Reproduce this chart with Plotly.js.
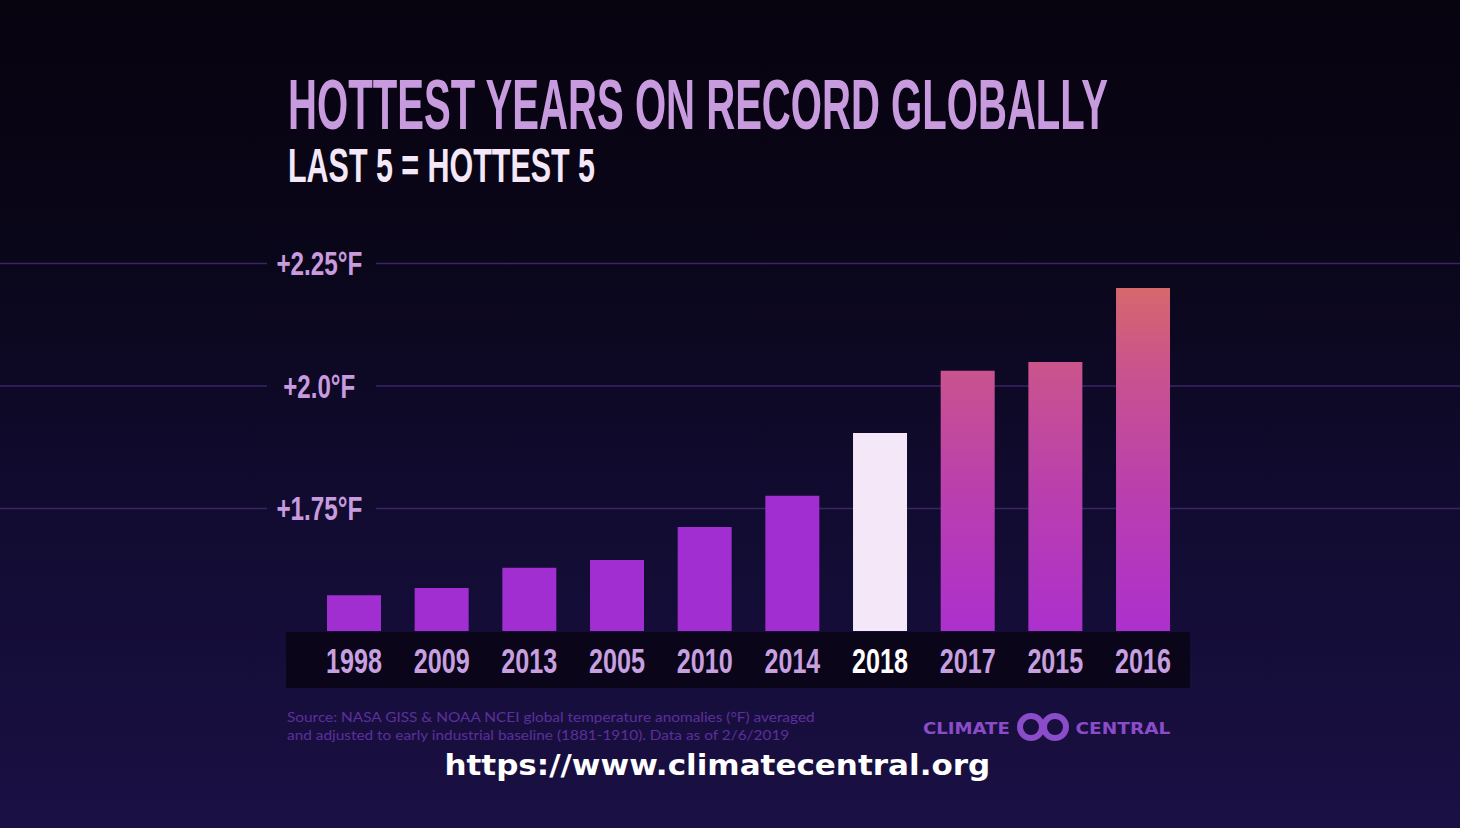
<!DOCTYPE html>
<html>
<head>
<meta charset="utf-8">
<script src="https://cdn.plot.ly/plotly-3.0.1.min.js"></script>
<style>
  html, body { margin:0; padding:0; width:1460px; height:828px; overflow:hidden;
    background: linear-gradient(to bottom, #07030f 0%, #0a0619 30%, #110b30 60%, #1a1044 100%); }
  #chart { width:1460px; height:828px; }
</style>
</head>
<body>
<div id="chart"></div>
<script>
// ---- data ----
const years = ['1998','2009','2013','2005','2010','2014','2018','2017','2015','2016'];
const anomaliesF = [1.573, 1.588, 1.629, 1.645, 1.712, 1.776, 1.904, 2.031, 2.049, 2.200];
const yTickVals = [1.75, 2.0, 2.25];
const yTickLabels = ['+1.75°F', '+2.0°F', '+2.25°F'];
const titleText = 'HOTTEST YEARS ON RECORD GLOBALLY';
const subtitleText = 'LAST 5 = HOTTEST 5';
const sourceLines = ['Source: NASA GISS &amp; NOAA NCEI global temperature anomalies (°F) averaged',
                     'and adjusted to early industrial baseline (1881-1910). Data as of 2/6/2019'];
const urlText = 'https://www.climatecentral.org';
const highlightYear = '2018';
const hottestFive = ['2018','2017','2015','2016'];

// ---- layout helpers ----
const W = 1460, H = 828, MT = 239, MB = 197;
const PH = H - MT - MB;
const px = x => x / W;
const py = y => (H - MB - y) / PH;

const PURPLE = '#a12ed1';
const barColors = years.map(y => y === highlightYear ? '#f3e7f8' : (hottestFive.includes(y) ? '#c04aa0' : PURPLE));
const tickText = years.map(y => y === highlightYear ? '<span style="color:#ffffff">' + y + '</span>' : y);

const NARROW = 'Liberation Sans Narrow, Arial Narrow, sans-serif';

const trace = {
  type: 'bar', x: years, y: anomaliesF,
  marker: { color: barColors, line: { width: 0 } },
  hoverinfo: 'skip'
};

const shapes = [];
// label band
shapes.push({ type:'rect', xref:'paper', yref:'paper', x0:px(286), x1:px(1190), y0:py(632), y1:py(688),
  fillcolor:'#0a0519', line:{width:0}, layer:'below' });
// broken gridlines
yTickVals.forEach(v => {
  shapes.push({ type:'line', xref:'paper', yref:'y', x0:0, x1:px(267), y0:v, y1:v, line:{color:'#3a2466', width:1.5}, layer:'below' });
  shapes.push({ type:'line', xref:'paper', yref:'y', x0:px(376), x1:1, y0:v, y1:v, line:{color:'#3a2466', width:1.5}, layer:'below' });
});
// logo rings
[1031, 1055].forEach(cx => {
  shapes.push({ type:'circle', xref:'paper', yref:'paper', xsizemode:'pixel', ysizemode:'pixel',
    xanchor:px(cx), yanchor:py(727), x0:-11, x1:11, y0:-11, y1:11,
    line:{color:'#8a4cc9', width:6}, fillcolor:'rgba(0,0,0,0)' });
});

const annotations = [];
const targetW = [];
function ann(o, tw) { annotations.push(Object.assign({ xref:'paper', yref:'paper', showarrow:false }, o)); targetW.push(tw); }

ann({ x:px(286), y:py(105), xanchor:'left', yanchor:'middle', text:titleText,
  font:{ family:NARROW, size:70, color:'#c89ade', weight:700 } }, 820);
ann({ x:px(286), y:py(165), xanchor:'left', yanchor:'middle', text:subtitleText,
  font:{ family:NARROW, size:48, color:'#f4e8f8', weight:700 } }, 307);
yTickVals.forEach((v, i) => {
  ann({ x:px(319), y:v, yref:'y', xanchor:'center', yanchor:'middle', text:yTickLabels[i],
    font:{ family:NARROW, size:33, color:'#c89ade', weight:700 } }, i === 1 ? 72 : 86);
});
ann({ x:px(285), y:py(726), xanchor:'left', yanchor:'middle', align:'left',
  text: sourceLines.join('<br>'),
  font:{ family:'Lato, sans-serif', size:13.5, color:'#5c309c' } }, 528);
ann({ x:px(966), y:py(728), xanchor:'center', yanchor:'middle', text:'CLIMATE',
  font:{ family:'DejaVu Sans, sans-serif', size:16, color:'#8a4cc9', weight:700 } }, 87);
ann({ x:px(1123), y:py(728), xanchor:'center', yanchor:'middle', text:'CENTRAL',
  font:{ family:'DejaVu Sans, sans-serif', size:16, color:'#8a4cc9', weight:700 } }, 95);
ann({ x:px(717), y:py(765), xanchor:'center', yanchor:'middle', text:urlText,
  font:{ family:'DejaVu Sans, sans-serif', size:28, color:'#ffffff', weight:700 } }, 546);

const layout = {
  width: W, height: H,
  margin: { l:0, r:0, t:MT, b:MB, pad:0 },
  paper_bgcolor: 'rgba(0,0,0,0)', plot_bgcolor: 'rgba(0,0,0,0)',
  showlegend: false,
  bargap: 0.384,
  xaxis: { type:'category', range:[-354/87.67, (W-354)/87.67], showgrid:false, zeroline:false, showline:false,
    tickmode:'array', tickvals: years, ticktext: tickText, ticks:'', ticklabelstandoff: 6,
    tickfont:{ family:NARROW, size:35, color:'#c8a0e0', weight:700 }, fixedrange:true },
  yaxis: { range:[1.5, 2.3], showgrid:false, zeroline:false, showline:false, showticklabels:false, fixedrange:true },
  shapes: shapes,
  annotations: annotations
};

function condense(t, tw, anchor) {
  const bb = t.getBBox(); if (!bb.width) return;
  const s = tw / bb.width;
  const cx = anchor === 'left' ? bb.x : bb.x + bb.width / 2;
  const ex = t.getAttribute('transform') || '';
  t.setAttribute('transform', ex + ' translate(' + cx + ',0) scale(' + s + ',1) translate(' + (-cx) + ',0)');
}

Plotly.newPlot('chart', [trace], layout, { displayModeBar:false, staticPlot:true }).then(gd => {
  const NS = 'http://www.w3.org/2000/svg';
  // gradient for the hottest bars (absolute vertical gradient)
  const ya = gd._fullLayout.yaxis;
  const defs = gd.querySelector('svg.main-svg defs');
  const lg = document.createElementNS(NS, 'linearGradient');
  lg.setAttribute('id', 'hotGrad');
  lg.setAttribute('gradientUnits', 'userSpaceOnUse');
  lg.setAttribute('x1', 0); lg.setAttribute('x2', 0);
  lg.setAttribute('y1', ya.l2p(Math.max(...anomaliesF)));
  lg.setAttribute('y2', ya.l2p(ya.range[0]));
  [[0,'#d6686c'],[0.25,'#c9528f'],[0.6,'#ba3fae'],[1,'#ac30cc']].forEach(([o,c]) => {
    const s = document.createElementNS(NS, 'stop');
    s.setAttribute('offset', o); s.setAttribute('stop-color', c); lg.appendChild(s);
  });
  defs.appendChild(lg);
  const paths = gd.querySelectorAll('g.trace.bars g.point path');
  paths.forEach((p, i) => {
    if (hottestFive.includes(years[i]) && years[i] !== highlightYear) p.style.fill = 'url(#hotGrad)';
  });
  // condense display fonts horizontally
  const anns = gd.querySelectorAll('g.annotation text.annotation-text');
  anns.forEach((t, i) => {
    if (targetW[i]) condense(t, targetW[i], annotations[i].xanchor);
  });
  gd.querySelectorAll('g.xtick text').forEach(t => condense(t, 56, 'center'));
});
</script>
</body>
</html>
